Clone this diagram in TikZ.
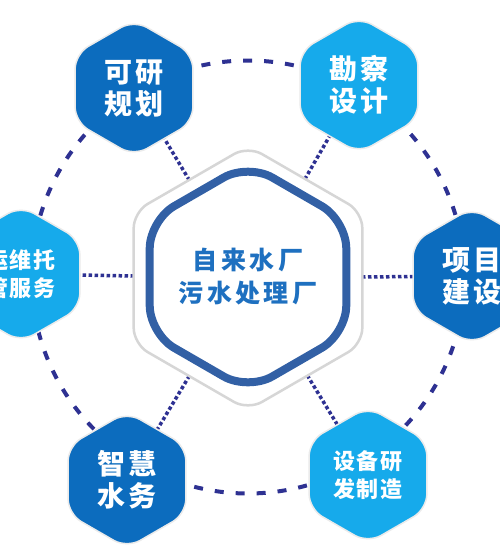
\documentclass[tikz,border=0pt]{standalone}
\usepackage{fontspec}
\newfontfamily\cjk[LetterSpace=8]{Noto Sans CJK SC}
\newfontfamily\cjkwide[LetterSpace=14]{Noto Sans CJK SC}
\usetikzlibrary{shapes.geometric,backgrounds}
\definecolor{dblue}{RGB}{12,108,190}
\definecolor{lblue}{RGB}{22,170,235}
\definecolor{navy}{RGB}{46,49,146}
\definecolor{cblue}{RGB}{50,96,165}
\definecolor{ctext}{RGB}{30,112,192}
\definecolor{hgray}{RGB}{214,214,214}
\begin{document}
\begin{tikzpicture}[x=1pt,y=-1pt,
  hexshape/.style={regular polygon, regular polygon sides=6, shape border rotate=30, inner sep=0pt},
  hexa/.style={hexshape, minimum size=136pt,
    rounded corners=15pt, draw=black!8, line width=1.5pt, text=white, align=center,
    font=\cjk\bfseries\fontsize{28}{32}\selectfont},
  smalltext/.style={font=\cjk\bfseries\fontsize{22}{28}\selectfont},
  dotline/.style={navy, line width=3.5pt, dash pattern=on 3.5pt off 2.5pt},
  dashcirc/.style={navy, line width=4pt, dash pattern=on 9pt off 12pt}]
\useasboundingbox (0,0) rectangle (500,550);
\clip (0,0) rectangle (500,550);
\coordinate (o) at (248,277);
% centre
\node[hexshape, minimum size=264pt,
  rounded corners=16pt, draw=hgray, line width=2.5pt, fill=white] (c) at (248,278) {};
\node[hexshape, minimum size=208pt,
  rounded corners=28pt, draw=cblue, line width=8pt, text=ctext, align=center,
  font=\cjkwide\bfseries\fontsize{25}{33}\selectfont] (ci) at (248,277) {自来水厂\\污水处理厂};
% satellites
\node[hexa, fill=dblue] (tl) at (134,88) {可研\\规划};
\node[hexa, fill=lblue] (tr) at (359,85) {勘察\\设计};
\node[hexa, fill=lblue, smalltext] (lf) at (21,274) {运维托\\管服务};
\node[hexa, fill=dblue] (rt) at (472,276) {项目\\建设};
\node[hexa, fill=dblue] (bl) at (127,480) {智慧\\水务};
\node[hexa, fill=lblue, smalltext] (br) at (368,475) {设备研\\发制造};
\begin{scope}[on background layer]
  \fill[white] (0,0) rectangle (500,550);
  \draw[dashcirc] (o) circle[radius=216.5pt];
  \foreach \s in {tl,tr,lf,rt,bl,br} \draw[dotline] (c.center) -- (\s.center);
\end{scope}
\end{tikzpicture}
\end{document}
